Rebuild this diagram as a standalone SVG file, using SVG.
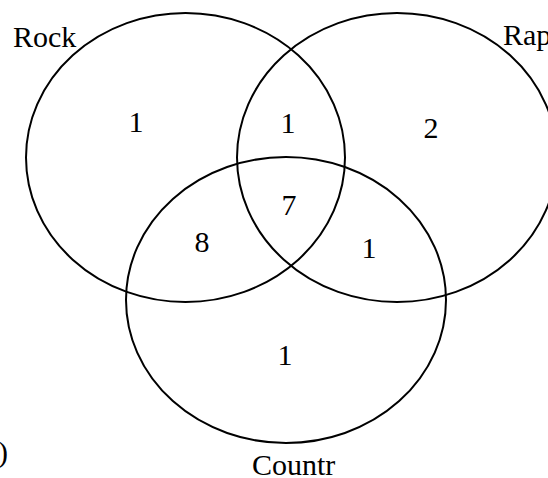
<svg xmlns="http://www.w3.org/2000/svg" width="548" height="478" viewBox="0 0 548 478">
  <style>
    .set { fill: none; stroke: #000; stroke-width: 2; }
    text { font-family: "Liberation Serif", "Times New Roman", serif; font-size: 30px; fill: #000; }
    .n { text-anchor: middle; }
  </style>
  <rect width="548" height="478" fill="#fff"/>
  <g id="rock">
    <ellipse class="set" cx="185.5" cy="157.5" rx="159.5" ry="144.5"/>
    <text x="13" y="47">Rock</text>
  </g>
  <g id="rap">
    <ellipse class="set" cx="397" cy="157.5" rx="160" ry="144.5"/>
    <text x="503" y="45">Rap</text>
  </g>
  <g id="countr">
    <ellipse class="set" cx="286" cy="300" rx="160" ry="143"/>
    <text x="252" y="475">Countr</text>
  </g>
  <g id="counts">
    <text class="n" x="136" y="132">1</text>
    <text class="n" x="288" y="133">1</text>
    <text class="n" x="431" y="138">2</text>
    <text class="n" x="202" y="252">8</text>
    <text class="n" x="289" y="215">7</text>
    <text class="n" x="369" y="258">1</text>
    <text class="n" x="285" y="365">1</text>
  </g>
  <text x="-2" y="462">)</text>
</svg>
